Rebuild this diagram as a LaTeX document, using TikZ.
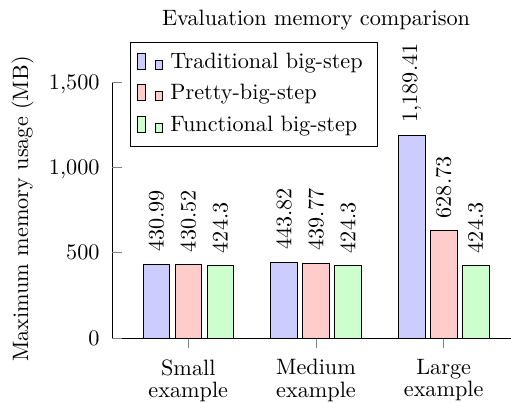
\documentclass[tikz,border=0pt]{standalone}
\definecolor{barblue}{RGB}{204,204,255}
\definecolor{barred}{RGB}{255,204,204}
\definecolor{bargreen}{RGB}{204,255,204}
\begin{document}
\begin{tikzpicture}[x=0.45pt,y=-0.45pt,
  axisline/.style={draw=black, line width=0.4pt},
  tickmark/.style={draw=gray, line width=0.4pt},
  barbox/.style={draw=black, line width=0.4pt},
  valuelabel/.style={rotate=90, anchor=west, inner sep=0pt},
  yticklabel/.style={anchor=base east, inner sep=0pt},
  xticklabel/.style={anchor=north, inner sep=0pt, align=center},
  legendtext/.style={anchor=base west, inner sep=0pt}]
\useasboundingbox (0,0) rectangle (511,403);
% title
\node[anchor=base, inner sep=0pt] (title) at (316,26) {Evaluation memory comparison};
% y label
\node[rotate=90, inner sep=0pt] (ylabel) at (22.5,209) {Maximum memory usage (MB)};
% axis lines
\coordinate (axtop) at (112,82);
\coordinate (axorigin) at (112,338);
\coordinate (axright) at (511,338);
\draw[axisline] (axtop) -- (axorigin) -- (axright);
% y ticks
\foreach \yy/\lab/\nm in {338/0/y0, 252.7/500/y1, 167.3/{1,000}/y2, 82/{1,500}/y3} {
  \draw[tickmark] (112,\yy) -- (122,\yy);
  \node[yticklabel] (\nm) at (100,\yy+7.2) {\lab};
}
% x ticks
\foreach \xx/\lab/\nm in {188.3/Small/xs, 316/Medium/xm, 443.7/Large/xl} {
  \draw[tickmark] (\xx,338) -- (\xx,348);
  \node[xticklabel] (\nm) at (\xx,359) {\lab\\[-2pt]example};
}
% bars
\foreach \xx/\v/\col/\nm/\lab in {
  156.3/430.99/barblue/sa/{430.99}, 188.3/430.52/barred/sb/{430.52}, 220.3/424.3/bargreen/sc/{424.3},
  284/443.82/barblue/ma/{443.82}, 316/439.77/barred/mb/{439.77}, 348/424.3/bargreen/mc/{424.3},
  411.7/1189.41/barblue/la/{1,189.41}, 443.7/628.73/barred/lb/{628.73}, 475.7/424.3/bargreen/lc/{424.3}} {
  \pgfmathsetmacro\bartop{338-0.170667*\v}
  \draw[barbox, fill=\col] (\xx-13.35,338) rectangle (\xx+13.35,\bartop);
  \node[valuelabel] (v\nm) at (\xx,\bartop-12) {\lab};
}
% legend
\draw[axisline, fill=white] (130,42) rectangle (377,146);
\foreach \b/\col/\lab/\nm in {68.5/barblue/Traditional big-step/lt, 100/barred/Pretty-big-step/lp, 131.5/bargreen/Functional big-step/lf} {
  \draw[barbox, fill=\col] (137.3,\b+0.8) rectangle (145,\b-15.2);
  \draw[barbox, fill=\col] (155,\b+0.8) rectangle (162.3,\b-8.5);
  \node[legendtext] (\nm) at (170,\b) {\lab};
}
\end{tikzpicture}
\end{document}
